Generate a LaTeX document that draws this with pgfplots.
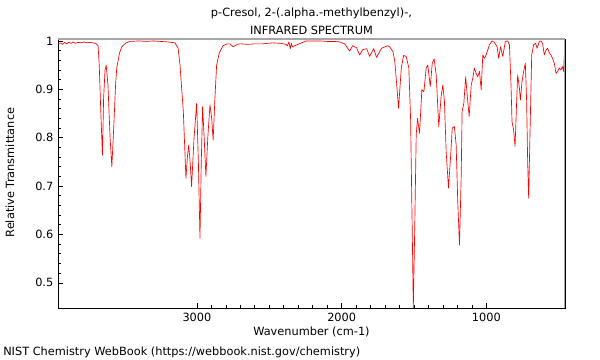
\documentclass[border=0pt]{standalone}
\usepackage{pgfplots}
\pgfplotsset{compat=1.18}
\usepackage{fontspec}
\setmainfont{DejaVu Sans}
\begin{document}
\begin{tikzpicture}
\useasboundingbox (0,0) rectangle (450pt,270pt);
\begin{axis}[
  at={(43.5pt,39pt)}, anchor=south west,
  scale only axis, width=380.25pt, height=201.75pt,
  x dir=reverse,
  xmin=457, xmax=3960, ymin=0.448, ymax=1.004,
  xtick={1000,2000,3000}, minor x tick num=9,
  ytick={0.5,0.6,0.7,0.8,0.9,1}, yticklabels={0.5,0.6,0.7,0.8,0.9,1},
  minor y tick num=4,
  xtick pos=left, ytick pos=left,
  tick align=inside,
  major tick length=3.75pt, minor tick length=2pt,
  tick style={black, line width=0.5pt},
  axis line style={black, line width=0.6pt},
  ticklabel style={font=\fontsize{8.5}{10}\selectfont},
  /pgf/number format/assume math mode=true,
  scaled x ticks=false,
  xticklabel={\pgfmathprintnumber[1000 sep={}]{\tick}},
  clip=true,
]
\addplot[red, line width=0.5pt, line join=round] coordinates {
(3958,0.994) (3945,0.996) (3930,0.993) (3915,0.997) (3900,0.994) (3885,0.997)
(3870,0.995) (3855,0.998) (3840,0.995) (3820,0.997) (3800,0.996) (3780,0.998)
(3760,0.996) (3740,0.997) (3720,0.996) (3700,0.995) (3683,0.99) (3675,0.95)
(3665,0.86) (3653,0.764) (3645,0.88) (3635,0.94) (3627,0.95) (3615,0.91)
(3600,0.80) (3588,0.74) (3575,0.82) (3562,0.91) (3554,0.944) (3535,0.975)
(3519,0.988) (3490,0.996) (3462,0.999) (3400,1.0) (3350,0.999) (3300,1.0)
(3250,0.999) (3200,0.998) (3152,0.996) (3130,0.985) (3117,0.95) (3094,0.854)
(3076,0.716) (3066,0.76) (3057,0.785) (3047,0.75) (3037,0.699) (3020,0.80)
(3002,0.871) (2990,0.75) (2979,0.592) (2970,0.75) (2961,0.864) (2950,0.80)
(2938,0.72) (2925,0.80) (2910,0.868) (2898,0.84) (2888,0.795) (2876,0.88)
(2864,0.95) (2846,0.975) (2820,0.99) (2790,0.994) (2772,0.994) (2750,0.988)
(2720,0.993) (2703,0.994) (2650,0.993) (2600,0.994) (2545,0.994) (2480,0.996)
(2420,0.995) (2385,0.993) (2375,0.99) (2365,0.998) (2355,0.984) (2348,0.995)
(2340,0.988) (2310,0.992) (2270,0.997) (2241,1.0) (2150,1.0) (2100,0.999)
(2050,0.999) (2014,0.998) (1979,0.994) (1945,0.979) (1924,0.99) (1897,0.986)
(1876,0.971) (1855,0.982) (1827,0.984) (1807,0.968) (1779,0.984) (1759,0.966)
(1724,0.985) (1683,0.99) (1669,0.988) (1655,0.982) (1646,0.978) (1634,0.96)
(1627,0.937) (1607,0.861) (1588,0.944) (1572,0.970) (1554,0.968) (1536,0.944)
(1524,0.841) (1512,0.60) (1505,0.448) (1496,0.60) (1485,0.806) (1476,0.84)
(1462,0.809) (1446,0.899) (1432,0.895) (1416,0.944) (1405,0.95) (1388,0.906)
(1374,0.954) (1361,0.963) (1347,0.93) (1329,0.823) (1312,0.888) (1301,0.909)
(1290,0.875) (1278,0.771) (1262,0.696) (1248,0.758) (1236,0.82) (1221,0.823)
(1209,0.785) (1198,0.668) (1186,0.578) (1174,0.723) (1168,0.854) (1156,0.871)
(1143,0.926) (1131,0.882) (1119,0.844) (1105,0.909) (1094,0.923) (1083,0.944)
(1071,0.933) (1060,0.926) (1048,0.937) (1036,0.899) (1025,0.971) (1014,0.964)
(1002,0.971) (979,0.992) (961,1.0) (945,0.997) (926,0.988) (915,0.964)
(903,0.988) (887,0.968) (869,0.999) (853,1.0) (841,0.992) (830,0.909)
(823,0.833) (812,0.816) (802,0.782) (791,0.875) (784,0.93) (772,0.902)
(765,0.878) (754,0.916) (743,0.937) (731,0.954) (722,0.875) (715,0.751)
(708,0.675) (699,0.806) (687,0.971) (674,0.992) (660,0.995) (650,0.985)
(634,0.999) (623,1.0) (612,0.995) (600,0.971) (588,0.981) (577,0.985)
(565,0.975) (554,0.971) (543,0.964) (531,0.954) (519,0.933) (508,0.937)
(496,0.944) (485,0.94) (474,0.947) (467,0.937) (462,0.968) (457,0.95)
};
\draw[gray!70, line width=1.2pt] (rel axis cs:0,1) -- (rel axis cs:1,1) -- (rel axis cs:1,0);
\end{axis}
\node[font=\fontsize{8.5}{10}\selectfont] at (233.6pt,260.25pt) {p-Cresol, 2-(.alpha.-methylbenzyl)-,};
\node[font=\fontsize{8.5}{10}\selectfont] at (233.6pt,247.5pt) {INFRARED SPECTRUM};
\node[font=\fontsize{8.5}{10}\selectfont] at (233.6pt,21pt) {Wavenumber (cm-1)};
\node[font=\fontsize{8.5}{10}\selectfont, rotate=90] at (7.5pt,140.6pt) {Relative Transmittance};
\node[font=\fontsize{8.5}{10}\selectfont, anchor=west, inner sep=0pt] at (2.25pt,6pt) {NIST Chemistry WebBook (https://webbook.nist.gov/chemistry)};
\end{tikzpicture}
\end{document}
